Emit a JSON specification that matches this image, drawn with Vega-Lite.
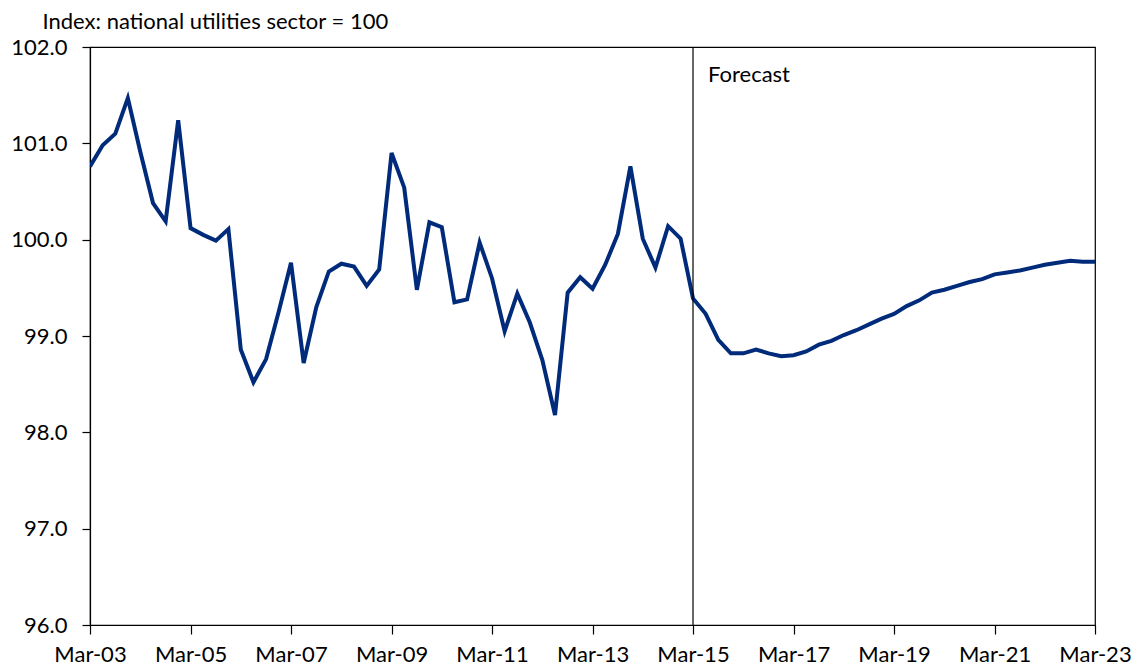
{
  "$schema": "https://vega.github.io/schema/vega-lite/v6.json",
  "width": 1005,
  "height": 578,
  "autosize": {"type": "none"},
  "padding": {"left": 90, "top": 47, "right": 41, "bottom": 43},
  "background": "white",
  "config": {
    "font": "Lato",
    "view": {"stroke": "#000", "strokeWidth": 1.2},
    "axis": {"grid": false, "domainColor": "#000", "tickColor": "#000", "labelColor": "#000", "titleColor": "#000", "labelFont": "Lato", "titleFont": "Lato", "labelFontSize": 22, "titleFontSize": 22, "titleFontWeight": "normal", "domainWidth": 1.2, "tickWidth": 1.2}
  },
  "datasets": {
    "series": [
      {"date": "2003-03-01T00:00:00", "value": 100.76},
      {"date": "2003-06-01T00:00:00", "value": 100.98},
      {"date": "2003-09-01T00:00:00", "value": 101.10},
      {"date": "2003-12-01T00:00:00", "value": 101.47},
      {"date": "2004-03-01T00:00:00", "value": 100.91},
      {"date": "2004-06-01T00:00:00", "value": 100.38},
      {"date": "2004-09-01T00:00:00", "value": 100.19},
      {"date": "2004-12-01T00:00:00", "value": 101.24},
      {"date": "2005-03-01T00:00:00", "value": 100.12},
      {"date": "2005-06-01T00:00:00", "value": 100.05},
      {"date": "2005-09-01T00:00:00", "value": 99.99},
      {"date": "2005-12-01T00:00:00", "value": 100.11},
      {"date": "2006-03-01T00:00:00", "value": 98.86},
      {"date": "2006-06-01T00:00:00", "value": 98.52},
      {"date": "2006-09-01T00:00:00", "value": 98.76},
      {"date": "2006-12-01T00:00:00", "value": 99.25},
      {"date": "2007-03-01T00:00:00", "value": 99.76},
      {"date": "2007-06-01T00:00:00", "value": 98.72},
      {"date": "2007-09-01T00:00:00", "value": 99.30},
      {"date": "2007-12-01T00:00:00", "value": 99.67},
      {"date": "2008-03-01T00:00:00", "value": 99.75},
      {"date": "2008-06-01T00:00:00", "value": 99.72},
      {"date": "2008-09-01T00:00:00", "value": 99.52},
      {"date": "2008-12-01T00:00:00", "value": 99.69},
      {"date": "2009-03-01T00:00:00", "value": 100.90},
      {"date": "2009-06-01T00:00:00", "value": 100.54},
      {"date": "2009-09-01T00:00:00", "value": 99.48},
      {"date": "2009-12-01T00:00:00", "value": 100.18},
      {"date": "2010-03-01T00:00:00", "value": 100.13},
      {"date": "2010-06-01T00:00:00", "value": 99.35},
      {"date": "2010-09-01T00:00:00", "value": 99.38},
      {"date": "2010-12-01T00:00:00", "value": 99.97},
      {"date": "2011-03-01T00:00:00", "value": 99.60},
      {"date": "2011-06-01T00:00:00", "value": 99.05},
      {"date": "2011-09-01T00:00:00", "value": 99.44},
      {"date": "2011-12-01T00:00:00", "value": 99.14},
      {"date": "2012-03-01T00:00:00", "value": 98.75},
      {"date": "2012-06-01T00:00:00", "value": 98.18},
      {"date": "2012-09-01T00:00:00", "value": 99.45},
      {"date": "2012-12-01T00:00:00", "value": 99.61},
      {"date": "2013-03-01T00:00:00", "value": 99.49},
      {"date": "2013-06-01T00:00:00", "value": 99.74},
      {"date": "2013-09-01T00:00:00", "value": 100.06},
      {"date": "2013-12-01T00:00:00", "value": 100.76},
      {"date": "2014-03-01T00:00:00", "value": 100.01},
      {"date": "2014-06-01T00:00:00", "value": 99.71},
      {"date": "2014-09-01T00:00:00", "value": 100.14},
      {"date": "2014-12-01T00:00:00", "value": 100.01},
      {"date": "2015-03-01T00:00:00", "value": 99.39},
      {"date": "2015-06-01T00:00:00", "value": 99.23},
      {"date": "2015-09-01T00:00:00", "value": 98.96},
      {"date": "2015-12-01T00:00:00", "value": 98.82},
      {"date": "2016-03-01T00:00:00", "value": 98.82},
      {"date": "2016-06-01T00:00:00", "value": 98.86},
      {"date": "2016-09-01T00:00:00", "value": 98.82},
      {"date": "2016-12-01T00:00:00", "value": 98.79},
      {"date": "2017-03-01T00:00:00", "value": 98.80},
      {"date": "2017-06-01T00:00:00", "value": 98.84},
      {"date": "2017-09-01T00:00:00", "value": 98.91},
      {"date": "2017-12-01T00:00:00", "value": 98.95},
      {"date": "2018-03-01T00:00:00", "value": 99.01},
      {"date": "2018-06-01T00:00:00", "value": 99.06},
      {"date": "2018-09-01T00:00:00", "value": 99.12},
      {"date": "2018-12-01T00:00:00", "value": 99.18},
      {"date": "2019-03-01T00:00:00", "value": 99.23},
      {"date": "2019-06-01T00:00:00", "value": 99.31},
      {"date": "2019-09-01T00:00:00", "value": 99.37},
      {"date": "2019-12-01T00:00:00", "value": 99.45},
      {"date": "2020-03-01T00:00:00", "value": 99.48},
      {"date": "2020-06-01T00:00:00", "value": 99.52},
      {"date": "2020-09-01T00:00:00", "value": 99.56},
      {"date": "2020-12-01T00:00:00", "value": 99.59},
      {"date": "2021-03-01T00:00:00", "value": 99.64},
      {"date": "2021-06-01T00:00:00", "value": 99.66},
      {"date": "2021-09-01T00:00:00", "value": 99.68},
      {"date": "2021-12-01T00:00:00", "value": 99.71},
      {"date": "2022-03-01T00:00:00", "value": 99.74},
      {"date": "2022-06-01T00:00:00", "value": 99.76},
      {"date": "2022-09-01T00:00:00", "value": 99.78},
      {"date": "2022-12-01T00:00:00", "value": 99.77},
      {"date": "2023-03-01T00:00:00", "value": 99.77}
    ],
    "marker": [
      {"date": "2015-03-01T00:00:00", "label": "Forecast"}
    ]
  },
  "layer": [
    {
      "data": {"name": "series"},
      "mark": {"type": "line", "color": "#002B7A", "strokeWidth": 4, "strokeJoin": "miter", "clip": true},
      "encoding": {
        "x": {
          "field": "date",
          "type": "temporal",
          "scale": {"domain": [{"year": 2003, "month": 3, "date": 1}, {"year": 2023, "month": 3, "date": 1}]},
          "axis": {
            "title": null,
            "format": "%b-%y",
            "values": [
              {"year": 2003, "month": 3, "date": 1},
              {"year": 2005, "month": 3, "date": 1},
              {"year": 2007, "month": 3, "date": 1},
              {"year": 2009, "month": 3, "date": 1},
              {"year": 2011, "month": 3, "date": 1},
              {"year": 2013, "month": 3, "date": 1},
              {"year": 2015, "month": 3, "date": 1},
              {"year": 2017, "month": 3, "date": 1},
              {"year": 2019, "month": 3, "date": 1},
              {"year": 2021, "month": 3, "date": 1},
              {"year": 2023, "month": 3, "date": 1}
            ],
            "tickSize": 9,
            "labelPadding": 10,
            "labelFlush": false,
            "labelOverlap": false
          }
        },
        "y": {
          "field": "value",
          "type": "quantitative",
          "scale": {"domain": [96, 102], "nice": false, "zero": false},
          "axis": {
            "values": [96, 97, 98, 99, 100, 101, 102],
            "format": ".1f",
            "tickSize": 8,
            "labelPadding": 15,
            "title": "Index: national utilities sector = 100",
            "titleAngle": 0,
            "titleAlign": "left",
            "titleBaseline": "alphabetic",
            "titleX": -48,
            "titleY": -19
          }
        }
      }
    },
    {
      "data": {"name": "marker"},
      "mark": {"type": "rule", "color": "#000", "strokeWidth": 1.2},
      "encoding": {
        "x": {"field": "date", "type": "temporal"}
      }
    },
    {
      "data": {"name": "marker"},
      "mark": {"type": "text", "align": "left", "baseline": "middle", "dx": 15, "fontSize": 22, "font": "Lato", "color": "#000"},
      "encoding": {
        "x": {"field": "date", "type": "temporal"},
        "y": {"datum": 101.71},
        "text": {"field": "label"}
      }
    }
  ]
}
